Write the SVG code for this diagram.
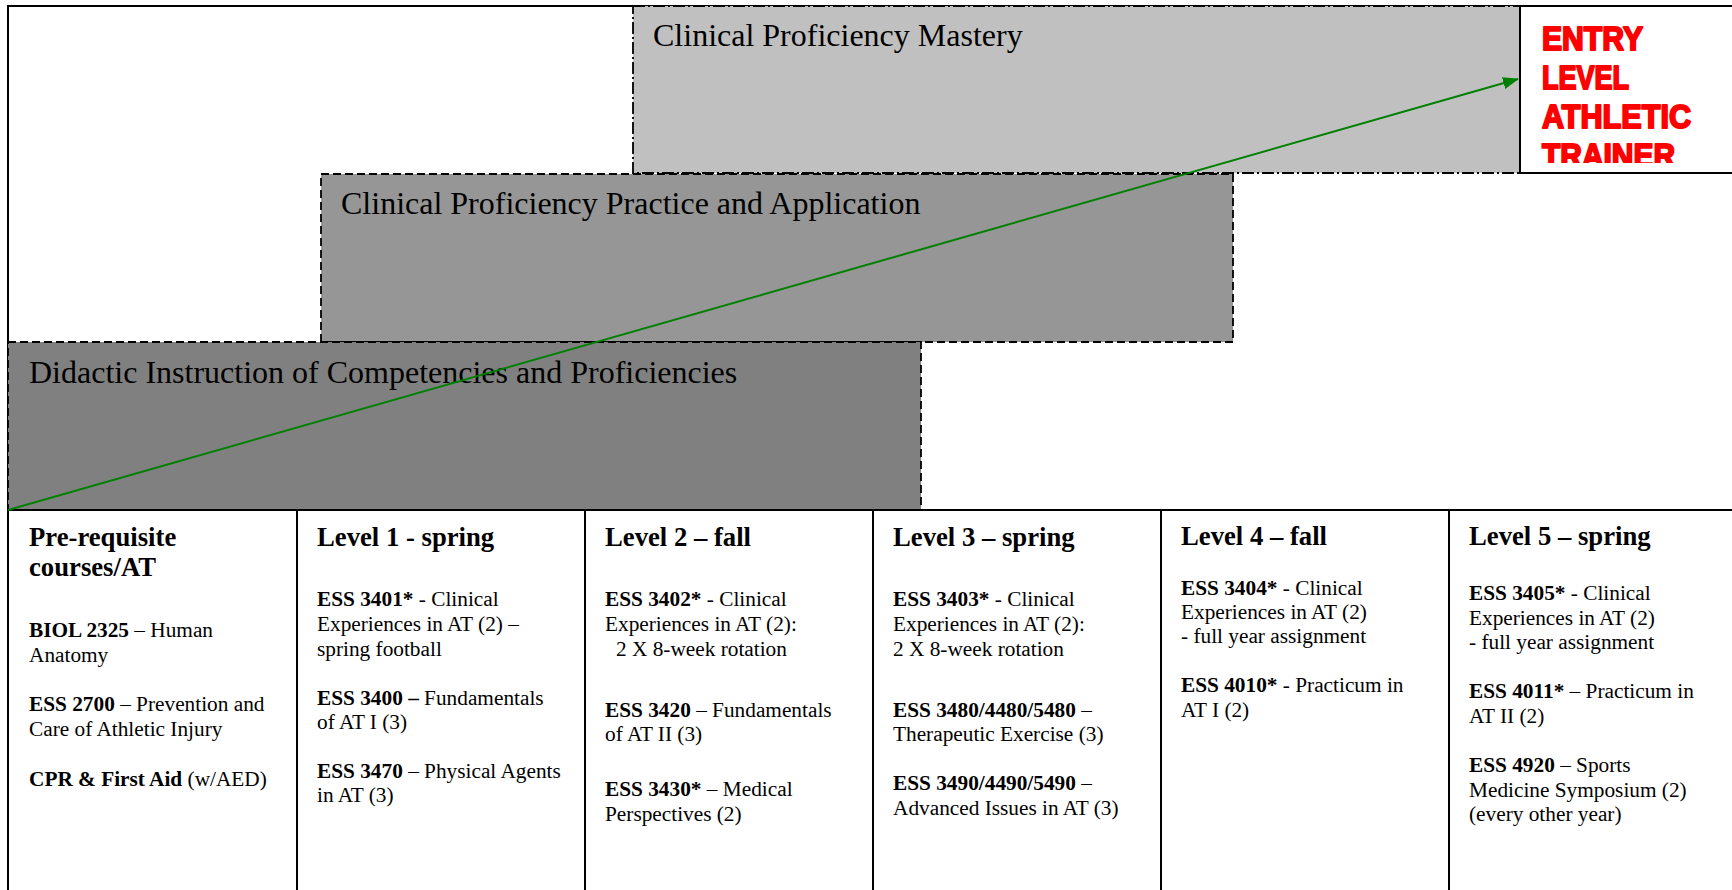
<svg xmlns="http://www.w3.org/2000/svg" width="1732" height="890" viewBox="0 0 1732 890">
<style>
.t{font-family:"Liberation Serif","Times New Roman",serif;fill:#000}
.title{font-size:32px}
.h{font-size:26.7px;font-weight:bold}
.b{font-size:21.3px}
.bo{font-weight:bold}
.frame{stroke:#000;stroke-width:2;fill:none}
.entry{font-family:"Liberation Sans",Arial,sans-serif;font-weight:bold;font-size:33px;fill:#ff0000;stroke:#ff0000;stroke-width:2;stroke-linejoin:round}
</style>
<defs>
<marker id="ah" markerWidth="8" markerHeight="6" refX="7.5" refY="3" orient="auto" markerUnits="strokeWidth">
<path d="M0,0 L8,3 L0,6 z" fill="#008000"/>
</marker>
<clipPath id="ec"><rect x="1521" y="6" width="211" height="157"/></clipPath>
</defs>
<rect x="0" y="0" width="1732" height="890" fill="#fff"/>

<g id="frame">
<line class="frame" x1="8" y1="6" x2="1732" y2="6"/>
<line class="frame" x1="8" y1="5" x2="8" y2="890"/>
</g>

<g id="mastery">
<rect x="633" y="6" width="887" height="167" fill="#c0c0c0" stroke="#000" stroke-width="1.8" stroke-dasharray="12 3 2 3"/>
<text class="t title" x="653" y="46">Clinical Proficiency Mastery</text>
</g>

<g id="entry">
<rect x="1520" y="6" width="214" height="167" fill="#fff" stroke="#000" stroke-width="2"/>
<g clip-path="url(#ec)">
<text class="entry" x="1542" y="50" textLength="101" lengthAdjust="spacingAndGlyphs">ENTRY</text>
<text class="entry" x="1542" y="89" textLength="87" lengthAdjust="spacingAndGlyphs">LEVEL</text>
<text class="entry" x="1542" y="128" textLength="149" lengthAdjust="spacingAndGlyphs">ATHLETIC</text>
<text class="entry" x="1542" y="167" textLength="133" lengthAdjust="spacingAndGlyphs">TRAINER</text>
</g>
</g>

<g id="practice">
<rect x="321" y="174" width="912" height="168" fill="#969696" stroke="#000" stroke-width="1.8" stroke-dasharray="8 4"/>
<text class="t title" x="341" y="214">Clinical Proficiency Practice and Application</text>
</g>

<g id="didactic">
<rect x="8" y="342" width="913" height="168" fill="#808080" stroke="#000" stroke-width="1.8" stroke-dasharray="8 4"/>
<text class="t title" x="29" y="383">Didactic Instruction of Competencies and Proficiencies</text>
</g>

<g id="table-lines">
<line class="frame" x1="8" y1="510" x2="1732" y2="510"/>
<line class="frame" x1="297" y1="510" x2="297" y2="890"/>
<line class="frame" x1="585" y1="510" x2="585" y2="890"/>
<line class="frame" x1="873" y1="510" x2="873" y2="890"/>
<line class="frame" x1="1161" y1="510" x2="1161" y2="890"/>
<line class="frame" x1="1449" y1="510" x2="1449" y2="890"/>
</g>

<g id="col-prereq" class="t">
<text class="h" x="29" y="546">Pre-requisite</text>
<text class="h" x="29" y="576">courses/AT</text>
<text class="b" x="29" y="637"><tspan class="bo">BIOL 2325</tspan> – Human</text>
<text class="b" x="29" y="662">Anatomy</text>
<text class="b" x="29" y="711"><tspan class="bo">ESS 2700</tspan> – Prevention and</text>
<text class="b" x="29" y="736">Care of Athletic Injury</text>
<text class="b" x="29" y="786"><tspan class="bo">CPR &amp; First Aid</tspan> (w/AED)</text>
</g>

<g id="col-level1" class="t">
<text class="h" x="317" y="546">Level 1 - spring</text>
<text class="b" x="317" y="606"><tspan class="bo">ESS 3401*</tspan> - Clinical</text>
<text class="b" x="317" y="631">Experiences in AT (2) –</text>
<text class="b" x="317" y="656">spring football</text>
<text class="b" x="317" y="705"><tspan class="bo">ESS 3400 –</tspan> Fundamentals</text>
<text class="b" x="317" y="729">of AT I (3)</text>
<text class="b" x="317" y="778"><tspan class="bo">ESS 3470</tspan> – Physical Agents</text>
<text class="b" x="317" y="802">in AT (3)</text>
</g>

<g id="col-level2" class="t">
<text class="h" x="605" y="546">Level 2 – fall</text>
<text class="b" x="605" y="606"><tspan class="bo">ESS 3402*</tspan> - Clinical</text>
<text class="b" x="605" y="631">Experiences in AT (2):</text>
<text class="b" x="616" y="656">2 X 8-week rotation</text>
<text class="b" x="605" y="717"><tspan class="bo">ESS 3420</tspan> – Fundamentals</text>
<text class="b" x="605" y="741">of AT II (3)</text>
<text class="b" x="605" y="796"><tspan class="bo">ESS 3430*</tspan> – Medical</text>
<text class="b" x="605" y="821">Perspectives (2)</text>
</g>

<g id="col-level3" class="t">
<text class="h" x="893" y="546">Level 3 – spring</text>
<text class="b" x="893" y="606"><tspan class="bo">ESS 3403*</tspan> - Clinical</text>
<text class="b" x="893" y="631">Experiences in AT (2):</text>
<text class="b" x="893" y="656">2 X 8-week rotation</text>
<text class="b" x="893" y="717"><tspan class="bo">ESS 3480/4480/5480</tspan> –</text>
<text class="b" x="893" y="741">Therapeutic Exercise (3)</text>
<text class="b" x="893" y="790"><tspan class="bo">ESS 3490/4490/5490</tspan> –</text>
<text class="b" x="893" y="815">Advanced Issues in AT (3)</text>
</g>

<g id="col-level4" class="t">
<text class="h" x="1181" y="545">Level 4 – fall</text>
<text class="b" x="1181" y="595"><tspan class="bo">ESS 3404*</tspan> - Clinical</text>
<text class="b" x="1181" y="619">Experiences in AT (2)</text>
<text class="b" x="1181" y="643">- full year assignment</text>
<text class="b" x="1181" y="692"><tspan class="bo">ESS 4010*</tspan> - Practicum in</text>
<text class="b" x="1181" y="717">AT I (2)</text>
</g>

<g id="col-level5" class="t">
<text class="h" x="1469" y="545">Level 5 – spring</text>
<text class="b" x="1469" y="600"><tspan class="bo">ESS 3405*</tspan> - Clinical</text>
<text class="b" x="1469" y="625">Experiences in AT (2)</text>
<text class="b" x="1469" y="649">- full year assignment</text>
<text class="b" x="1469" y="698"><tspan class="bo">ESS 4011*</tspan> – Practicum in</text>
<text class="b" x="1469" y="723">AT II (2)</text>
<text class="b" x="1469" y="772"><tspan class="bo">ESS 4920</tspan> – Sports</text>
<text class="b" x="1469" y="797">Medicine Symposium (2)</text>
<text class="b" x="1469" y="821">(every other year)</text>
</g>

<g id="connectors">
<line x1="8" y1="510" x2="1518" y2="79" stroke="#008000" stroke-width="2" marker-end="url(#ah)"/>
</g>
</svg>
